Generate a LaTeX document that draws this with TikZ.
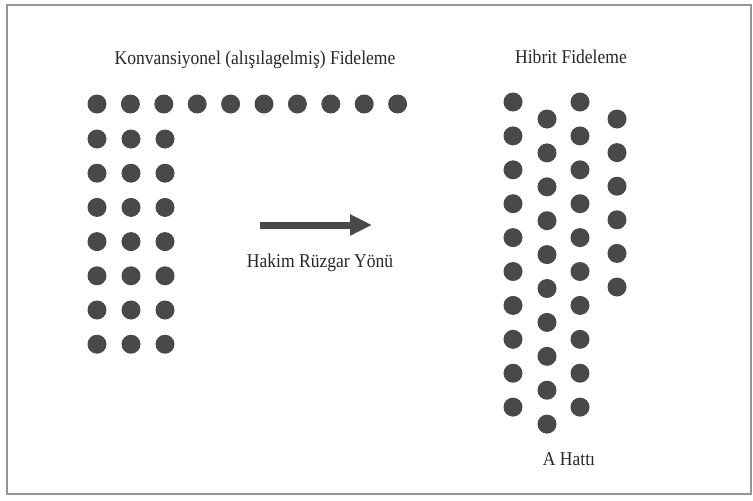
\documentclass[tikz,border=0pt]{standalone}
\usepackage{fontspec}
\setmainfont[FakeStretch=0.9]{Liberation Serif}
\usepackage{xcolor}
\usepackage{tikz}
\usetikzlibrary{arrows.meta,positioning}
\definecolor{dotgray}{RGB}{74,72,72}
\definecolor{framegray}{RGB}{150,150,150}
\tikzset{
  seedling/.style={circle,fill=dotgray,inner sep=0pt,minimum size=19pt},
  windarrow/.style={-{Triangle[length=22pt,width=20pt]},line width=7pt,draw=dotgray},
  captiontext/.style={anchor=base,inner sep=0pt,text=black!85,font=\fontsize{19.5}{22}\selectfont},
  outerframe/.style={draw=framegray,line width=1.2pt}
}
\begin{document}
\begin{tikzpicture}[x=1pt,y=-1pt]
  \useasboundingbox (0,0) rectangle (753,501);
  \draw[outerframe] (7,5) rectangle (751,494);
  \node[captiontext] (convtitle) at (255,64) {Konvansiyonel (alışılagelmiş) Fideleme};
  \node[captiontext] (hybtitle) at (571,63) {Hibrit Fideleme};
  \foreach \i in {1,...,10}
    \node[seedling] (top\i) at ({97+33.4*(\i-1)},104) {};
  \foreach \r in {1,...,7}
    \foreach \c/\x in {1/97,2/131,3/165}
      \node[seedling] (conv\r\c) at (\x,{139+34.2*(\r-1)}) {};
  \coordinate (windtail) at (260,225);
  \coordinate (windtip) at (372,225);
  \draw[windarrow] (windtail) -- (windtip);
  \node[captiontext] (windlabel) at (320,267) {Hakim Rüzgar Yönü};
  \foreach \r in {1,...,10} {
    \node[seedling] (hybA\r) at (513,{102+33.9*(\r-1)}) {};
    \node[seedling] (hybB\r) at (547,{119+33.9*(\r-1)}) {};
    \node[seedling] (hybC\r) at (580,{102+33.9*(\r-1)}) {};
  }
  \foreach \r in {1,...,6}
    \node[seedling] (hybD\r) at (617,{119+33.6*(\r-1)}) {};
  \node[captiontext] (linelabel) at (569,465) {A Hattı};
\end{tikzpicture}
\end{document}
